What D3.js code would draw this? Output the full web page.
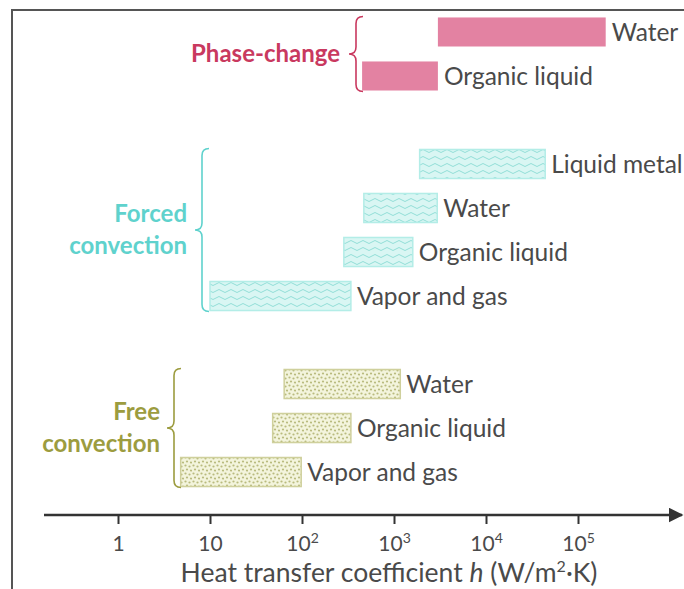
<!DOCTYPE html>
<html>
<head>
<meta charset="utf-8">
<script src="https://cdn.jsdelivr.net/npm/d3@7"></script>
<style>
  body { margin: 0; background: #fff; }
  svg { font-family: Lato, "Open Sans", sans-serif; }
</style>
</head>
<body>
<svg id="svg" width="684" height="589"></svg>
<script>
// Data
var groupNames = [["Phase-change"], ["Forced", "convection"], ["Free", "convection"]]
var groupColors = ["#c9395f", "#5fd2cd", "#9c9c3f"]
var rowLabels = ["Water", "Organic liquid", "Liquid metal", "Water", "Organic liquid", "Vapor and gas", "Water", "Organic liquid", "Vapor and gas"]
var rowGroup = [0, 0, 1, 1, 1, 1, 2, 2, 2]
var rowSlot = [0, 1, 3, 4, 5, 6, 8, 9, 10]
var lowValues = [3000, 450, 1900, 470, 285, 10, 64, 48, 4.8]
var highValues = [200000, 3000, 44000, 2950, 1600, 340, 1170, 340, 98]
var tickValues = [1, 10, 100, 1000, 10000, 100000]
var tickBase = ["1", "10", "10", "10", "10", "10"]
var tickExp = ["", "", "2", "3", "4", "5"]

var svg = d3.select("#svg")

var x = d3.scaleLog().domain([1, 1e5]).range([118, 578])
var y = d3.scaleBand().domain(d3.range(11)).range([2.5, 501.5]).padding(0.34)

// frame
svg.append("path")
  .attr("d", "M12,589 L12,10 L684,10")
  .attr("fill", "none")
  .attr("stroke", "#555")
  .attr("stroke-width", 2)

// patterns
var defs = svg.append("defs")
var wave = defs.append("pattern").attr("id", "wave")
  .attr("patternUnits", "userSpaceOnUse").attr("width", 12).attr("height", 7)
wave.append("rect").attr("width", 12).attr("height", 7).attr("fill", "#d9f6f3")
wave.append("path").attr("d", "M0,4 Q3,1 6,4 T12,4")
  .attr("fill", "none").attr("stroke", "#93dfd8").attr("stroke-width", 1)

var dots = defs.append("pattern").attr("id", "dots")
  .attr("patternUnits", "userSpaceOnUse").attr("width", 8).attr("height", 8)
dots.append("rect").attr("width", 8).attr("height", 8).attr("fill", "#f3f4dc")
var dotPos = [[1.5, 1.5], [5.5, 2.5], [3, 5.5], [7, 6.5]]
dotPos.forEach(p => {
  dots.append("circle").attr("cx", p[0]).attr("cy", p[1]).attr("r", 1.1).attr("fill", "#b9bb7e")
})

var fills = ["#e382a2", "url(#wave)", "url(#dots)"]
var strokes = ["none", "#b3ede7", "#cfd09c"]

// bars
var rows = rowLabels.map((d, i) => ({ label: d, group: rowGroup[i], slot: rowSlot[i], lo: lowValues[i], hi: highValues[i] }))

svg.selectAll(".bar")
  .data(rows)
  .enter().append("rect")
  .attr("class", "bar")
  .attr("x", d => x(d.lo))
  .attr("y", d => y(d.slot))
  .attr("width", d => x(d.hi) - x(d.lo))
  .attr("height", y.bandwidth())
  .attr("fill", d => fills[d.group])
  .attr("stroke", d => strokes[d.group])
  .attr("stroke-width", 1.5)

svg.selectAll(".lab")
  .data(rows)
  .enter().append("text")
  .attr("class", "lab")
  .attr("x", d => x(d.hi) + 6)
  .attr("y", d => y(d.slot) + y.bandwidth() / 2)
  .attr("dy", "0.35em")
  .attr("font-size", 24.5)
  .attr("fill", "#4a4a4a")
  .text(d => d.label)

// braces
function bracePath(xt, y0, y1, w) {
  var m = (y0 + y1) / 2, xm = xt + w / 2, r = w / 2
  return "M" + (xt + w) + "," + y0 +
    " Q" + xm + "," + y0 + " " + xm + "," + (y0 + r) +
    " L" + xm + "," + (m - r) +
    " Q" + xm + "," + m + " " + xt + "," + m +
    " Q" + xm + "," + m + " " + xm + "," + (m + r) +
    " L" + xm + "," + (y1 - r) +
    " Q" + xm + "," + y1 + " " + (xt + w) + "," + y1
}

var braceTip = [349, 195, 167]
var labelRight = [340, 187, 160]
groupNames.forEach((lines, g) => {
  var slots = rows.filter(d => d.group == g).map(d => d.slot)
  var yTop = y(d3.min(slots)) - 1
  var yBot = y(d3.max(slots)) + y.bandwidth() + 1
  svg.append("path")
    .attr("d", bracePath(braceTip[g], yTop, yBot, 14))
    .attr("fill", "none")
    .attr("stroke", groupColors[g])
    .attr("stroke-width", 1.6)
  var mid = (yTop + yBot) / 2
  lines.forEach((t, k) => {
    svg.append("text")
      .attr("x", labelRight[g])
      .attr("y", mid + (k - (lines.length - 1) / 2) * 32)
      .attr("dy", "0.35em")
      .attr("text-anchor", "end")
      .attr("font-size", 24)
      .attr("font-weight", "bold")
      .attr("fill", groupColors[g])
      .text(t)
  })
})

// x axis
var axisY = 515
defs.append("marker").attr("id", "arrow")
  .attr("viewBox", "0 0 10 10").attr("refX", 9).attr("refY", 5)
  .attr("markerWidth", 6).attr("markerHeight", 6).attr("orient", "auto")
  .append("path").attr("d", "M0,0 L10,5 L0,10 z").attr("fill", "#333")

svg.append("line")
  .attr("x1", 44).attr("x2", 682)
  .attr("y1", axisY).attr("y2", axisY)
  .attr("stroke", "#333").attr("stroke-width", 2.5)
  .attr("marker-end", "url(#arrow)")

var gx = svg.append("g")
  .attr("transform", "translate(0," + axisY + ")")
  .call(d3.axisBottom(x).tickValues(tickValues).tickSize(9).tickSizeOuter(0).tickPadding(12).tickFormat(""))
gx.select(".domain").remove()
gx.selectAll(".tick line").attr("stroke", "#333").attr("stroke-width", 2)
gx.selectAll(".tick text")
  .attr("font-size", 21)
  .attr("fill", "#4a4a4a")
  .each(function (d, i) {
    var t = d3.select(this)
    t.append("tspan").text(tickBase[i])
    if (tickExp[i]) t.append("tspan").attr("font-size", 14).attr("dy", "-0.6em").text(tickExp[i])
  })
gx.attr("font-family", null)

var title = svg.append("text")
  .attr("x", 389).attr("y", 582)
  .attr("text-anchor", "middle")
  .attr("font-size", 26.5)
  .attr("fill", "#4a4a4a")
title.append("tspan").text("Heat transfer coefficient ")
title.append("tspan").attr("font-style", "italic").text("h")
title.append("tspan").text(" (W/m")
title.append("tspan").attr("font-size", 16).attr("dy", -10).text("2")
title.append("tspan").attr("dy", 10).text("·K)")
</script>
</body>
</html>
